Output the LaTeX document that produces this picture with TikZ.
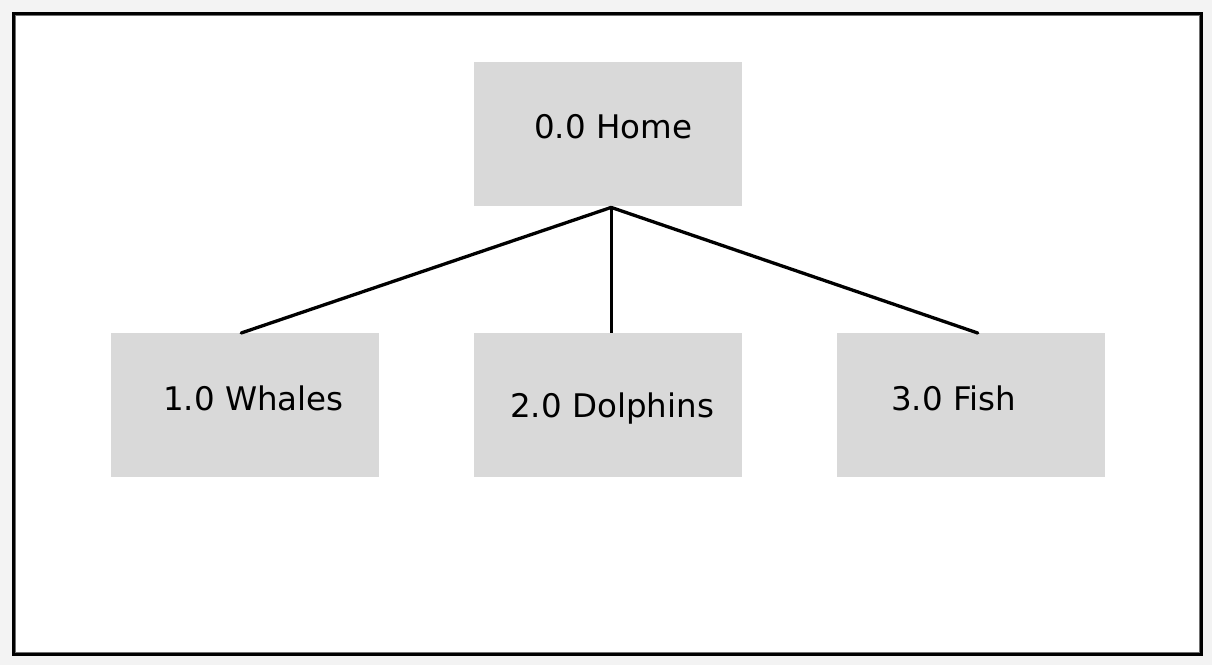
\documentclass[tikz,border=0pt]{standalone}
\usepackage{fontspec}
\setmainfont{DejaVu Sans}
\definecolor{pagebg}{HTML}{F3F3F3}
\definecolor{boxfill}{HTML}{D9D9D9}
\definecolor{framegray}{HTML}{707070}
\begin{document}
\begin{tikzpicture}[x=1pt,y=-1pt,
  boxstyle/.style={fill=boxfill,draw=none,minimum width=268pt,minimum height=144pt,inner sep=0pt,anchor=north west},
  lbl/.style={font=\fontsize{32.5}{38}\selectfont,inner sep=0pt,anchor=base west},
  link/.style={draw=black,line width=3.3pt}]
\useasboundingbox (0,0) rectangle (1212,665);
\fill[pagebg] (0,0) rectangle (1212,665);
\fill[white] (13.5,13.5) rectangle (1201.5,654.5);
\draw[framegray,line width=1pt] (15.5,15.5) rectangle (1199.5,652.5);
\draw[black,line width=3.4pt] (13.5,13.5) rectangle (1201.5,654.5);
\node[boxstyle] (home) at (474,62) {};
\node[boxstyle] (whales) at (111,333) {};
\node[boxstyle] (dolphins) at (474,333) {};
\node[boxstyle] (fish) at (837,333) {};
\node[lbl] (homet) at (534,138) {0.0 Home};
\node[lbl] (whalest) at (163,410.7) {1.0 Whales};
\node[lbl] (dolphinst) at (510,417.3) {2.0 Dolphins};
\node[lbl] (fisht) at (891,410.7) {3.0 Fish};
\coordinate (apex) at ([xshift=3pt,yshift=-1pt]home.south);
\draw[link,line cap=round] (apex) -- ([xshift=-4pt]whales.north);
\draw[link] (apex) -- ([xshift=3pt]dolphins.north);
\draw[link,line cap=round] (apex) -- ([xshift=6.5pt]fish.north);
\end{tikzpicture}
\end{document}
